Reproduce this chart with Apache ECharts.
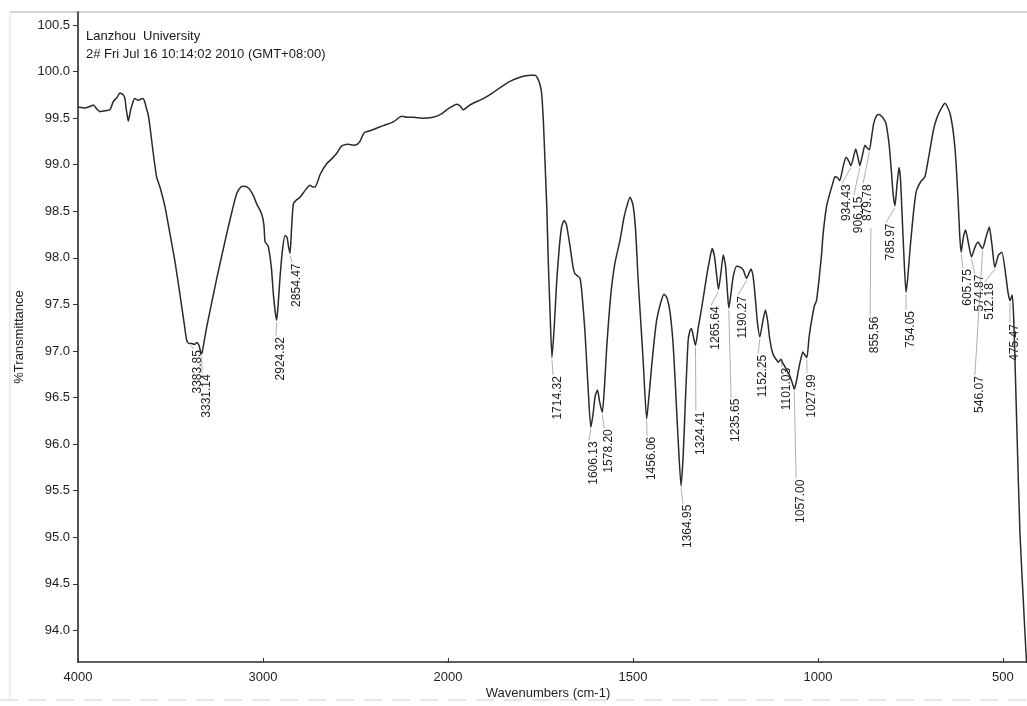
<!DOCTYPE html>
<html>
<head>
<meta charset="utf-8">
<script src="https://cdn.jsdelivr.net/npm/echarts@6/dist/echarts.min.js"></script>
<style>html,body{margin:0;padding:0;background:#fff;}#c{width:1027px;height:706px;}</style>
</head>
<body>
<div id="c"></div>
<script>
// ---- spectrum data (wavenumber cm-1, %T) ----
const wavenumbers = [
4000,3960,3930,3917,3899,3881,3850,3827,3809,3790,3773,3755,3745,3741,3733,3728,3722,3715,3700,3692,3675,3665,3650,3640,3632,3622,3611,3595,3575,3557,3530,3503,3475,3449,3425,3412,3400,3385,3370,3358,3346,3338,3331,3320,3304,3250,3196,3165,3142,3120,3106,3085,3070,3050,3034,3007,2995,2989,2980,2971,2955,2944,2934,2926,2918,2908,2895,2881,2870,2862,2854,2846,2836,2820,2800,2770,2746,2730,2719,2690,2656,2630,2602,2580,2566,2540,2512,2490,2476,2460,2449,2413,2350,2296,2250,2220,2188,2140,2080,2040,2007,2000,
1976,1967,1959,1945,1932,1905,1880,1851,1830,1805,1778,1765,1758,1752,1747,1742,1738,1733,1729,1724,1719,1713,1706,1699,1693,1686,1680,1670,1662,1657,1648,1643,1638,1630,1622,1614,1608,1602,1596,1590,1583,1577,1571,1560,1549,1535,1525,1517,1508,1500,1493,1486,1478,1472,1463,1456,1449,1443,1436,1425,1416,1408,1400,1392,1386,1378,1370,1364,1359,1351,1346,1342,1336,1331,1324,1314,1301,1292,1286,1280,1274,1269,1262,1256,1250,1245,1241,1235,1229,1220,1210,1202,1193,1186,1181,1176,1170,1164,1157,1150,1142,1136,1130,1122,1115,1107,1100,1095,1089,1076,1068,1064,1058,1053,1046,1041,1036,1030,1024,1017,1010,1004,999,995,990,986,977,968,960,954,947,941,932,924,917,911,904,898,892,887,880,873,867,861,855,849,841,834,828,822,816,811,807,801,797,792,786,781,777,773,768,762,757,751,744,738,733,722,711,700,688,679,670,663,657,650,643,636,630,625,621,617,613,607,601,593,585,575,567,561,555,546,537,530,522,512,503,492,486,481,475,471,468,462,454,446,438,435
];
const transmittance = [
99.62,99.61,99.63,99.64,99.60,99.57,99.58,99.59,99.68,99.72,99.77,99.75,99.70,99.62,99.52,99.47,99.52,99.59,99.69,99.71,99.69,99.70,99.71,99.68,99.62,99.55,99.41,99.15,98.87,98.76,98.55,98.26,97.95,97.61,97.28,97.11,97.08,97.08,97.07,97.09,97.06,97.00,96.97,97.08,97.26,97.78,98.26,98.52,98.69,98.76,98.77,98.76,98.73,98.66,98.58,98.47,98.35,98.17,98.15,98.12,97.90,97.61,97.42,97.33,97.50,97.79,98.08,98.24,98.22,98.12,98.05,98.30,98.58,98.62,98.65,98.73,98.78,98.76,98.76,98.90,99.01,99.06,99.12,99.19,99.21,99.22,99.21,99.22,99.25,99.32,99.35,99.37,99.42,99.46,99.52,99.51,99.51,99.50,99.51,99.54,99.59,99.60,
99.65,99.63,99.59,99.63,99.66,99.71,99.77,99.85,99.90,99.94,99.96,99.96,99.93,99.87,99.77,99.45,99.05,98.55,97.97,97.40,96.93,97.25,97.76,98.12,98.33,98.40,98.36,98.12,97.90,97.83,97.80,97.78,97.62,97.22,96.65,96.18,96.32,96.52,96.58,96.45,96.34,96.62,97.04,97.60,97.94,98.19,98.42,98.55,98.65,98.57,98.30,97.76,97.25,96.86,96.27,96.55,96.86,97.10,97.33,97.52,97.61,97.57,97.42,97.10,96.68,96.05,95.55,95.90,96.40,97.11,97.22,97.24,97.14,97.06,97.24,97.47,97.80,98.00,98.10,98.02,97.82,97.66,97.85,98.03,97.92,97.65,97.46,97.62,97.80,97.91,97.90,97.87,97.78,97.84,97.88,97.82,97.60,97.32,97.15,97.30,97.44,97.32,97.12,96.97,96.92,96.88,96.91,96.87,96.83,96.73,96.64,96.59,96.68,96.79,96.92,96.99,96.96,96.93,97.15,97.33,97.48,97.54,97.70,97.85,98.05,98.26,98.55,98.69,98.80,98.87,98.86,98.83,98.98,99.08,99.04,98.99,99.08,99.17,99.08,98.99,99.10,99.21,99.18,99.16,99.30,99.45,99.53,99.54,99.52,99.49,99.44,99.32,99.19,98.90,98.69,98.56,98.80,98.97,98.85,98.50,98.05,97.63,97.80,98.10,98.40,98.62,98.73,98.82,98.87,99.10,99.37,99.50,99.58,99.63,99.66,99.62,99.55,99.40,99.19,98.90,98.60,98.25,98.06,98.22,98.30,98.15,98.01,98.12,98.17,98.13,98.10,98.22,98.33,98.15,97.90,98.03,98.06,97.80,97.62,97.54,97.60,97.35,96.97,96.11,95.04,94.40,93.78,93.60
];

// ---- peak annotations ----
const peakLabels   = ['3383.85','3331.14','2924.32','2854.47','1714.32','1606.13','1578.20','1456.06','1364.95','1324.41','1265.64','1235.65','1190.27','1152.25','1101.03','1057.00','1027.99','934.43','906.15','879.78','855.56','785.97','754.05','605.75','574.87','546.07','512.18','475.47'];
const peakAnchorWn = [3388,3331,2926,2854,1719,1614,1583,1463,1370,1331,1269,1241,1193,1157,1100,1064,1030,911,887,861,857,792,762,613,585,555,522,481];
const leaderEndWn  = [3378,3330,2930,2843,1716,1619,1578,1462,1365,1330,1289,1235,1216,1162,1097,1059,1030,935,903,878,859,816,762,608,576,576,549,481];
const labelTopT    = [97.02,96.76,97.16,97.95,96.74,96.04,96.17,96.09,95.36,96.36,97.49,96.50,97.60,96.97,96.83,95.63,96.76,98.80,98.67,98.80,97.38,98.38,97.44,97.89,97.83,96.74,97.74,97.30];
const leaderStartT = [null,null,null,null,null,null,null,null,null,null,null,null,null,null,null,null,null,null,null,null,98.32,null,null,null,null,null,null,null];

// ---- axis ticks ----
const yTickValues = [94.0,94.5,95.0,95.5,96.0,96.5,97.0,97.5,98.0,98.5,99.0,99.5,100.0,100.5];
const xTicksHigh = [4000,3000,2000];
const xTicksLow = [1500,1000,500];

const Y_MIN = 93.66, Y_MAX = 100.64;
const FONT = "'Liberation Sans', Arial, Helvetica, sans-serif";

function interpT(w) {
  for (let i = 0; i < wavenumbers.length - 1; i++) {
    const a = wavenumbers[i], b = wavenumbers[i + 1];
    if (w <= a && w >= b) {
      const f = (a - w) / (a - b);
      return transmittance[i] + f * (transmittance[i + 1] - transmittance[i]);
    }
  }
  return transmittance[transmittance.length - 1];
}

const highPts = [], lowPts = [];
wavenumbers.forEach((w, i) => {
  if (w >= 2000) highPts.push([w, transmittance[i]]);
  if (w <= 2000) lowPts.push([w, transmittance[i]]);
});
const highPeaks = [], lowPeaks = [];
peakLabels.forEach((lab, i) => {
  const st = leaderStartT[i] != null ? leaderStartT[i] : interpT(peakAnchorWn[i]);
  const item = { value: [peakAnchorWn[i], st, leaderEndWn[i], labelTopT[i]], name: lab, gap: leaderStartT[i] == null };
  (peakAnchorWn[i] >= 2000 ? highPeaks : lowPeaks).push(item);
});

function renderPeak(params, api) {
  const p0 = api.coord([api.value(0), api.value(1)]);
  const p1 = api.coord([api.value(2), api.value(3)]);
  const src = (params.seriesIndex === 2 ? highPeaks : lowPeaks)[params.dataIndex];
  return {
    type: 'group',
    children: [
      { type: 'line', shape: { x1: p0[0], y1: p0[1] + (src.gap ? 2 : 0), x2: p1[0], y2: p1[1] },
        style: { stroke: '#9a9a9a', lineWidth: 0.8 } },
      { type: 'text', x: p1[0] + 5, y: p1[1] + 1, rotation: Math.PI / 2,
        style: { text: src.name, align: 'right', verticalAlign: 'middle',
                 fontSize: 12, fontFamily: FONT, fill: '#1e1e1e' } }
    ]
  };
}

const chart = echarts.init(document.getElementById('c'));
const axisLineStyle = { color: '#2a2a2a', width: 1.6 };
const plainNum = v => String(v);
chart.setOption({
  backgroundColor: '#fff',
  animation: false,
  title: {
    text: 'Lanzhou  University\n2# Fri Jul 16 10:14:02 2010 (GMT+08:00)',
    left: 81, top: 22,
    textStyle: { fontSize: 13, fontWeight: 'normal', fontFamily: FONT, color: '#1a1a1a', lineHeight: 18 }
  },
  grid: [
    { left: 78, top: 12, width: 370, bottom: 44 },
    { left: 448, top: 12, right: 0, bottom: 44 }
  ],
  xAxis: [
    { gridIndex: 0, type: 'value', min: 2000, max: 4000, interval: 1000, inverse: true,
      axisLine: { lineStyle: axisLineStyle }, axisTick: { show: true, inside: true, length: 4, lineStyle: { color: '#333' } },
      splitLine: { show: false },
      axisLabel: { margin: 9, fontSize: 13, fontFamily: FONT, color: '#1e1e1e', formatter: plainNum } },
    { gridIndex: 1, type: 'value', min: 435, max: 2000, inverse: true,
      axisLine: { lineStyle: axisLineStyle },
      axisTick: { show: true, inside: true, length: 4, customValues: xTicksLow, lineStyle: { color: '#333' } },
      splitLine: { show: false },
      axisLabel: { margin: 9, fontSize: 13, fontFamily: FONT, color: '#1e1e1e', customValues: xTicksLow, formatter: plainNum } }
  ],
  yAxis: [
    { gridIndex: 0, type: 'value', min: Y_MIN, max: Y_MAX,
      name: '%Transmittance', nameLocation: 'middle', nameGap: 52,
      nameTextStyle: { fontSize: 13, fontFamily: FONT, color: '#1e1e1e' },
      axisLine: { show: true, lineStyle: axisLineStyle },
      axisTick: { show: true, length: 5, customValues: yTickValues, lineStyle: { color: '#333' } },
      splitLine: { show: false },
      axisLabel: { margin: 8, fontSize: 13, fontFamily: FONT, color: '#1e1e1e', customValues: yTickValues,
                   formatter: v => v.toFixed(1) } },
    { gridIndex: 1, type: 'value', min: Y_MIN, max: Y_MAX, show: false, splitLine: { show: false } }
  ],
  graphic: [
    { type: 'line', shape: { x1: 10, y1: 12, x2: 1027, y2: 12 }, style: { stroke: '#aaa', lineWidth: 1 }, silent: true },
    { type: 'line', shape: { x1: 10, y1: 12, x2: 10, y2: 698 }, style: { stroke: '#ddd', lineWidth: 1 }, silent: true },
    { type: 'line', shape: { x1: 0, y1: 700, x2: 1027, y2: 700 }, style: { stroke: '#ccc', lineWidth: 1, lineDash: [18, 10] }, silent: true },
    { type: 'text', x: 548, y: 693, style: { text: 'Wavenumbers (cm-1)', align: 'center', verticalAlign: 'middle',
      fontSize: 13, fontFamily: FONT, fill: '#1e1e1e' } }
  ],
  series: [
    { type: 'line', xAxisIndex: 0, yAxisIndex: 0, data: highPts, showSymbol: false, smooth: 0.2,
      lineStyle: { color: '#2a2a2a', width: 1.5 }, clip: true },
    { type: 'line', xAxisIndex: 1, yAxisIndex: 1, data: lowPts, showSymbol: false, smooth: 0.2,
      lineStyle: { color: '#2a2a2a', width: 1.5 }, clip: true },
    { type: 'custom', xAxisIndex: 0, yAxisIndex: 0, data: highPeaks, renderItem: renderPeak, silent: true },
    { type: 'custom', xAxisIndex: 1, yAxisIndex: 1, data: lowPeaks, renderItem: renderPeak, silent: true }
  ]
});
</script>
</body>
</html>
